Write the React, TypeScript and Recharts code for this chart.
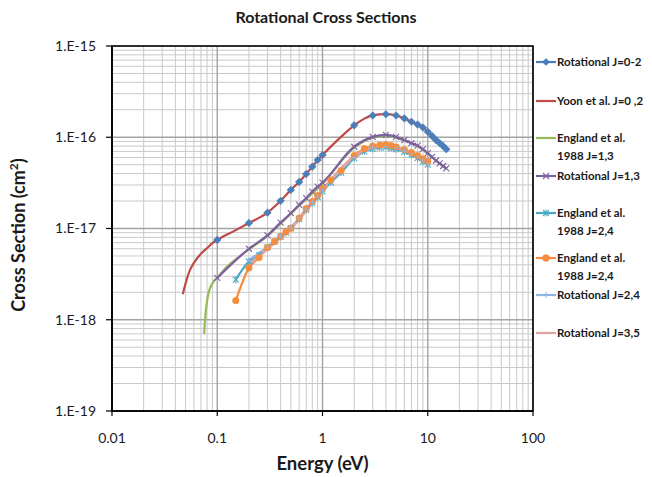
import React from 'react';
import { LineChart, Line, XAxis, YAxis, CartesianGrid, ReferenceArea } from 'recharts';

// ---------- axis ticks ----------
const MAJOR_X = [0.01, 0.1, 1, 10, 100];
const MAJOR_Y = [1e-19, 1e-18, 1e-17, 1e-16, 1e-15];
const MULTS = [2, 3, 4, 5, 6, 7, 8, 9];
const MINOR_X = MAJOR_X.slice(0, -1).flatMap((d) => MULTS.map((m) => Number((d * m).toPrecision(3))));
const MINOR_Y = MAJOR_Y.slice(0, -1).flatMap((d) => MULTS.map((m) => Number((d * m).toPrecision(3))));
const ALL_X = [...MAJOR_X, ...MINOR_X];
const ALL_Y = [...MAJOR_Y, ...MINOR_Y];

// ---------- series ----------
const E_ROT_J02 = [0.1, 0.2, 0.3, 0.4, 0.5, 0.6, 0.7, 0.8, 0.9, 1, 2, 3, 4, 5, 6, 7, 8, 9, 10, 11, 12, 13, 14, 15];
const S_ROT_J02 = [7.5e-18, 1.15e-17, 1.49e-17, 2.01e-17, 2.65e-17, 3.24e-17, 3.96e-17, 4.76e-17, 5.64e-17, 6.39e-17, 1.35e-16, 1.73e-16, 1.79e-16, 1.73e-16, 1.61e-16, 1.48e-16, 1.38e-16, 1.28e-16, 1.15e-16, 1.03e-16, 9.3e-17, 8.6e-17, 8.0e-17, 7.4e-17];

const E_YOON = [0.047, 0.05, 0.055, 0.06, 0.07, 0.08, 0.09, 0.1, 0.15, 0.2, 0.3, 0.4, 0.5, 0.6, 0.7, 0.8, 0.9, 1, 1.5, 2, 2.5, 3, 4, 5, 6, 7, 8, 9, 10, 12, 15];
const S_YOON = [1.9e-18, 2.5e-18, 3.5e-18, 4.2e-18, 5.3e-18, 6.1e-18, 6.9e-18, 7.5e-18, 9.6e-18, 1.15e-17, 1.49e-17, 2.01e-17, 2.65e-17, 3.24e-17, 3.96e-17, 4.76e-17, 5.64e-17, 6.39e-17, 1.01e-16, 1.35e-16, 1.6e-16, 1.74e-16, 1.79e-16, 1.73e-16, 1.61e-16, 1.48e-16, 1.38e-16, 1.28e-16, 1.15e-16, 9.3e-17, 7.3e-17];

const E_ENG_J13 = [0.075, 0.0765, 0.08, 0.083, 0.092, 0.103, 0.12, 0.15, 0.2, 0.3, 0.5, 0.7, 1, 2, 3, 4, 5, 6, 8, 10, 12, 15];
const S_ENG_J13 = [7.0e-19, 1.0e-18, 1.6e-18, 2.0e-18, 2.6e-18, 3.0e-18, 3.7e-18, 4.6e-18, 5.9e-18, 8.3e-18, 1.45e-17, 2.1e-17, 3.1e-17, 7.7e-17, 9.9e-17, 1.04e-16, 9.9e-17, 9.2e-17, 8.0e-17, 6.6e-17, 5.5e-17, 4.5e-17];

const E_ROT_J13 = [0.1, 0.2, 0.3, 0.4, 0.5, 0.6, 0.7, 0.8, 0.9, 1, 2, 3, 4, 5, 6, 7, 8, 9, 10, 11, 12, 13, 14, 15];
const S_ROT_J13 = [2.87e-18, 6.0e-18, 8.4e-18, 1.16e-17, 1.47e-17, 1.82e-17, 2.15e-17, 2.54e-17, 2.88e-17, 3.18e-17, 7.87e-17, 1.01e-16, 1.06e-16, 1.01e-16, 9.3e-17, 8.6e-17, 8.1e-17, 7.4e-17, 6.7e-17, 6.08e-17, 5.56e-17, 5.16e-17, 4.84e-17, 4.57e-17];

const E_ENG_J24A = [0.15, 0.2, 0.25, 0.3, 0.35, 0.4, 0.45, 0.5, 0.6, 0.7, 0.8, 0.9, 1, 1.2, 1.5, 2, 2.5, 3, 3.5, 4, 4.5, 5, 6, 7, 8, 9, 10];
const S_ENG_J24A = [2.75e-18, 4.35e-18, 5.1e-18, 6.2e-18, 7.2e-18, 8.1e-18, 9.0e-18, 1.0e-17, 1.27e-17, 1.6e-17, 1.9e-17, 2.2e-17, 2.55e-17, 3.2e-17, 4.1e-17, 5.9e-17, 7.0e-17, 7.5e-17, 7.7e-17, 7.8e-17, 7.6e-17, 7.4e-17, 6.9e-17, 6.4e-17, 5.9e-17, 5.4e-17, 5.0e-17];

const E_ENG_J24B = [0.15, 0.2, 0.25, 0.3, 0.35, 0.4, 0.45, 0.5, 0.6, 0.7, 0.8, 0.9, 1, 1.2, 1.5, 2, 2.5, 3, 3.5, 4, 4.5, 5, 6, 7, 8, 9, 10];
const S_ENG_J24B = [1.62e-18, 3.7e-18, 4.8e-18, 6.2e-18, 7.2e-18, 8.2e-18, 9.2e-18, 1.01e-17, 1.3e-17, 1.65e-17, 1.97e-17, 2.3e-17, 2.7e-17, 3.4e-17, 4.3e-17, 6.3e-17, 7.5e-17, 8.0e-17, 8.2e-17, 8.3e-17, 8.1e-17, 7.8e-17, 7.3e-17, 6.8e-17, 6.3e-17, 5.8e-17, 5.4e-17];

const E_ROT_J24 = [0.2, 0.3, 0.4, 0.5, 0.6, 0.7, 0.8, 0.9, 1, 2, 3, 4, 5, 6, 7, 8, 9, 10];
const S_ROT_J24 = [4.5e-18, 6.3e-18, 8.3e-18, 1.03e-17, 1.3e-17, 1.62e-17, 1.93e-17, 2.25e-17, 2.6e-17, 6.0e-17, 7.7e-17, 7.9e-17, 7.6e-17, 7.1e-17, 6.6e-17, 6.1e-17, 5.6e-17, 5.1e-17];

const E_ROT_J35 = [0.2, 0.3, 0.4, 0.5, 0.6, 0.7, 0.8, 0.9, 1, 2, 3, 4, 5, 6, 7, 8, 9, 10];
const S_ROT_J35 = [4.0e-18, 6.0e-18, 8.0e-18, 1.0e-17, 1.27e-17, 1.58e-17, 1.9e-17, 2.22e-17, 2.6e-17, 6.1e-17, 7.8e-17, 8.0e-17, 7.7e-17, 7.2e-17, 6.7e-17, 6.2e-17, 5.7e-17, 5.2e-17];

const zip = (xs: number[], ys: number[]) => xs.map((x, i) => ({ x, y: ys[i] }));

const C_BLUE = '#4A7EBB';
const C_RED = '#BE4B48';
const C_GREEN = '#98B954';
const C_PURPLE = '#7D60A0';
const C_TEAL = '#46AAC5';
const C_ORANGE = '#F68D3E';
const C_LBLUE = '#8EB4E3';
const C_PINK = '#E0A4A2';

// ---------- markers ----------
const Diamond = (color: string, r = 3.8) => (p: any) =>
  p.cx == null ? <g key={p.key} /> : (
    <polygon key={p.key} points={`${p.cx},${p.cy - r} ${p.cx + r},${p.cy} ${p.cx},${p.cy + r} ${p.cx - r},${p.cy}`} fill={color} stroke={color} strokeWidth={0.6} />
  );
const Cross = (color: string, r = 3) => (p: any) =>
  p.cx == null ? <g key={p.key} /> : (
    <g key={p.key} stroke={color} strokeWidth={1.1}>
      <line x1={p.cx - r} y1={p.cy - r} x2={p.cx + r} y2={p.cy + r} />
      <line x1={p.cx - r} y1={p.cy + r} x2={p.cx + r} y2={p.cy - r} />
    </g>
  );
const Star = (color: string, r = 3) => (p: any) =>
  p.cx == null ? <g key={p.key} /> : (
    <g key={p.key} stroke={color} strokeWidth={1.1}>
      <line x1={p.cx - r} y1={p.cy - r} x2={p.cx + r} y2={p.cy + r} />
      <line x1={p.cx - r} y1={p.cy + r} x2={p.cx + r} y2={p.cy - r} />
      <line x1={p.cx} y1={p.cy - r - 0.5} x2={p.cx} y2={p.cy + r + 0.5} />
    </g>
  );
const Circle = (color: string, r = 3.3) => (p: any) =>
  p.cx == null ? <g key={p.key} /> : <circle key={p.key} cx={p.cx} cy={p.cy} r={r} fill={color} stroke={color} strokeWidth={0.5} />;
const Plus = (color: string, r = 2.5) => (p: any) =>
  p.cx == null ? <g key={p.key} /> : (
    <g key={p.key} stroke={color} strokeWidth={1}>
      <line x1={p.cx - r} y1={p.cy} x2={p.cx + r} y2={p.cy} />
      <line x1={p.cx} y1={p.cy - r} x2={p.cx} y2={p.cy + r} />
    </g>
  );

const LEGEND = [
  { lines: ['Rotational J=0-2'], color: C_BLUE, marker: 'diamond', y: 62 },
  { lines: ['Yoon et al. J=0 ,2'], color: C_RED, marker: 'none', y: 101 },
  { lines: ['England et al.', '1988 J=1,3'], color: C_GREEN, marker: 'none', y: 138 },
  { lines: ['Rotational J=1,3'], color: C_PURPLE, marker: 'cross', y: 176 },
  { lines: ['England et al.', '1988 J=2,4'], color: C_TEAL, marker: 'star', y: 213 },
  { lines: ['England et al.', '1988 J=2,4'], color: C_ORANGE, marker: 'circle', y: 258 },
  { lines: ['Rotational J=2,4'], color: C_LBLUE, marker: 'plus', y: 295 },
  { lines: ['Rotational J=3,5'], color: C_PINK, marker: 'none', y: 333 },
];

const legendMarker = (m: string, color: string, cx: number, cy: number) => {
  const p = { cx, cy, key: 'k' };
  if (m === 'diamond') return Diamond(color, 3.5)(p);
  if (m === 'cross') return Cross(color, 3)(p);
  if (m === 'star') return Star(color, 3)(p);
  if (m === 'circle') return Circle(color, 3.5)(p);
  if (m === 'plus') return Plus(color, 3)(p);
  return null;
};

const W = 652;
const H = 477;
const FONT = 'Lato, "Open Sans", sans-serif';

export default function App() {
  return (
    <div style={{ position: 'absolute', left: 0, top: 0, width: W, height: H, background: '#fff', fontFamily: FONT }}>
      <LineChart width={W} height={H} margin={{ top: 46, right: 119, bottom: 36, left: 0 }}>
        <CartesianGrid verticalValues={MINOR_X} horizontalValues={MINOR_Y} stroke="#C9C9C9" strokeWidth={1} />
        <CartesianGrid verticalValues={MAJOR_X} horizontalValues={MAJOR_Y} stroke="#A3A3A3" strokeWidth={1.4} />
        <XAxis
          dataKey="x"
          type="number"
          scale="log"
          domain={[0.01, 100]}
          allowDataOverflow
          ticks={MAJOR_X}
          tickFormatter={(v: number) => String(v)}
          height={30}
          tickSize={5}
          tickMargin={17}
          axisLine={{ stroke: '#000', strokeWidth: 1.6 }}
          tickLine={{ stroke: '#000', strokeWidth: 1.2 }}
          tick={{ fill: '#1a1a1a', fontSize: 14, fontFamily: FONT }}
          interval={0}
        />
        <XAxis
          xAxisId="m"
          dataKey="x"
          type="number"
          scale="log"
          domain={[0.01, 100]}
          allowDataOverflow
          ticks={ALL_X}
          tickFormatter={() => ''}
          mirror
          height={0}
          tickSize={4}
          axisLine={false}
          tickLine={{ stroke: '#000', strokeWidth: 1.2 }}
          interval={0}
        />
        <YAxis
          type="number"
          scale="log"
          domain={[1e-19, 1e-15]}
          allowDataOverflow
          ticks={MAJOR_Y}
          tickFormatter={(v: number) => '1.E' + Math.round(Math.log10(v))}
          width={112}
          tickSize={6}
          tickMargin={10}
          axisLine={{ stroke: '#000', strokeWidth: 1.6 }}
          tickLine={{ stroke: '#000', strokeWidth: 1.2 }}
          tick={{ fill: '#1a1a1a', fontSize: 14, fontFamily: FONT }}
          interval={0}
        />
        <YAxis
          yAxisId="m"
          type="number"
          scale="log"
          domain={[1e-19, 1e-15]}
          allowDataOverflow
          ticks={ALL_Y}
          tickFormatter={() => ''}
          mirror
          width={0}
          tickSize={4}
          axisLine={false}
          tickLine={{ stroke: '#000', strokeWidth: 1.2 }}
          interval={0}
        />
        <ReferenceArea x1={0.01} x2={100} y1={1e-19} y2={1e-15} fill="none" stroke="#000" strokeWidth={1.6} ifOverflow="visible" />

        <Line data={zip(E_ROT_J02, S_ROT_J02)} dataKey="y" type="monotone" stroke="none" strokeWidth={0} dot={Diamond(C_BLUE)} isAnimationActive={false} />
        <Line data={zip(E_YOON, S_YOON)} dataKey="y" type="monotone" stroke={C_RED} strokeWidth={2.2} dot={false} isAnimationActive={false} />
        <Line data={zip(E_ENG_J13, S_ENG_J13)} dataKey="y" type="monotone" stroke={C_GREEN} strokeWidth={2.2} dot={false} isAnimationActive={false} />
        <Line data={zip(E_ROT_J13, S_ROT_J13)} dataKey="y" type="monotone" stroke={C_PURPLE} strokeWidth={2.2} dot={Cross(C_PURPLE)} isAnimationActive={false} />
        <Line data={zip(E_ENG_J24A, S_ENG_J24A)} dataKey="y" type="monotone" stroke={C_TEAL} strokeWidth={2.2} dot={Star(C_TEAL)} isAnimationActive={false} />
        <Line data={zip(E_ENG_J24B, S_ENG_J24B)} dataKey="y" type="monotone" stroke={C_ORANGE} strokeWidth={2.2} dot={Circle(C_ORANGE)} isAnimationActive={false} />
        <Line data={zip(E_ROT_J24, S_ROT_J24)} dataKey="y" type="monotone" stroke={C_LBLUE} strokeWidth={2.2} dot={Plus(C_LBLUE)} isAnimationActive={false} />
        <Line data={zip(E_ROT_J35, S_ROT_J35)} dataKey="y" type="monotone" stroke={C_PINK} strokeWidth={3} dot={false} isAnimationActive={false} />
      </LineChart>

      <div style={{ position: 'absolute', left: 0, top: 7, width: W, textAlign: 'center', fontSize: 16, fontWeight: 700, color: '#1a1a1a' }}>
        Rotational Cross Sections
      </div>
      <div style={{ position: 'absolute', left: 112, top: 452, width: 421, textAlign: 'center', fontSize: 18.5, fontWeight: 700, color: '#1a1a1a' }}>
        Energy (eV)
      </div>
      <div
        style={{
          position: 'absolute',
          left: 18 - 110,
          top: 235 - 12,
          width: 220,
          height: 24,
          lineHeight: '24px',
          textAlign: 'center',
          fontSize: 18,
          fontWeight: 700,
          color: '#1a1a1a',
          transform: 'rotate(-90deg)',
        }}
      >
        Cross Section (cm<sup style={{ fontSize: 12, verticalAlign: 'top', lineHeight: '16px' }}>2</sup>)
      </div>

      <svg style={{ position: 'absolute', left: 0, top: 0 }} width={W} height={H}>
        {LEGEND.map((e, i) => (
          <g key={i}>
            <line x1={536} x2={556} y1={e.y} y2={e.y} stroke={e.color} strokeWidth={2.2} />
            {legendMarker(e.marker, e.color, 546, e.y)}
            {e.lines.map((t, j) => (
              <text key={j} x={557} y={e.y + j * 18 + 4} fontSize={11.5} fontWeight={700} fill="#1a1a1a" fontFamily={FONT}>
                {t}
              </text>
            ))}
          </g>
        ))}
      </svg>
    </div>
  );
}
